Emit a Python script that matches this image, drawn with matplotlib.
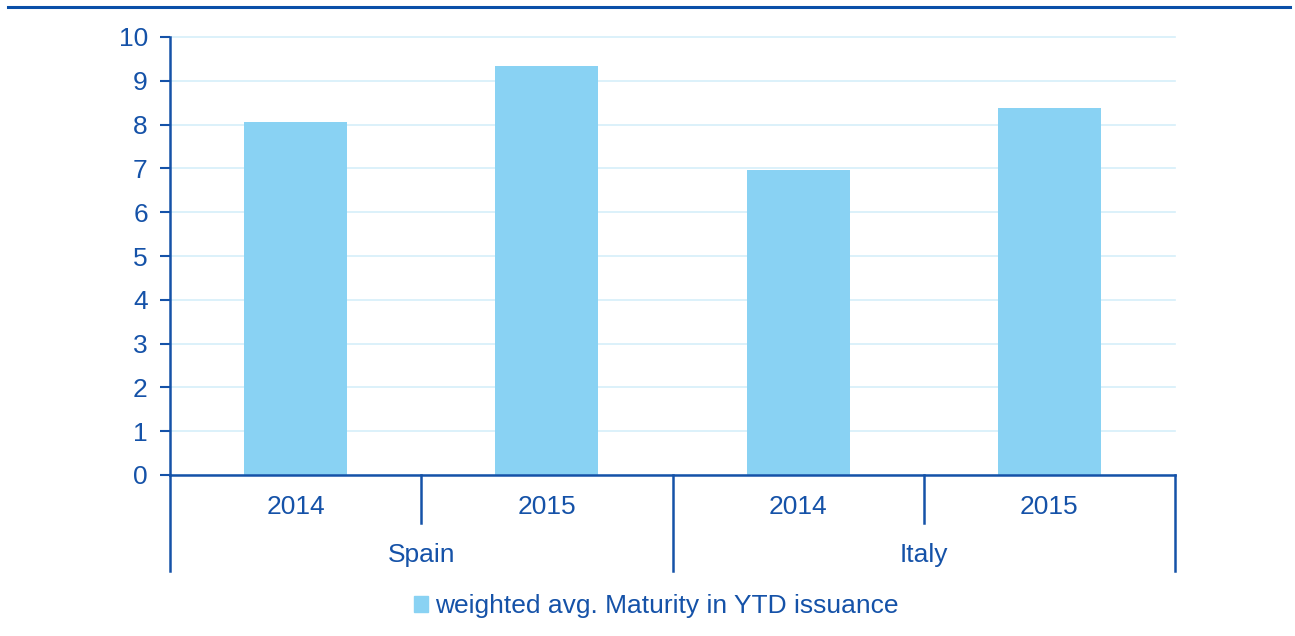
import matplotlib
matplotlib.use('Agg')
import matplotlib.pyplot as plt
from matplotlib.lines import Line2D
from matplotlib.patches import Patch

years = ['2014', '2015', '2014', '2015']
countries = ['Spain', 'Italy']
maturity = [8.05, 9.33, 6.97, 8.37]
yticks = list(range(0, 11))

DARK = '#1552A8'
BAR = '#89D2F3'
GRID = '#D5EFFA'

plt.rcParams['font.family'] = ['Liberation Sans', 'DejaVu Sans']

fig = plt.figure(figsize=(12.95, 6.36), dpi=100)
ax = fig.add_axes([170 / 1295, 1 - 475 / 636, 1005 / 1295, 438 / 636])

x = list(range(len(maturity)))
ax.bar(x, maturity, width=0.41, color=BAR, zorder=2)

ax.set_xlim(-0.5, len(maturity) - 0.5)
ax.set_ylim(0, 10)
ax.set_yticks(yticks)
ax.yaxis.grid(True, color=GRID, linewidth=1.2, zorder=0)
for gl in ax.get_ygridlines():
    gl.set_clip_on(False)
ax.tick_params(axis='y', colors=DARK, labelsize=19, length=7, width=1.5, direction='out', pad=9)
ax.tick_params(axis='x', bottom=False, labelbottom=False)
for s in ['top', 'right']:
    ax.spines[s].set_visible(False)
ax.spines['left'].set_color(DARK)
ax.spines['left'].set_linewidth(1.8)
ax.spines['bottom'].set_color(DARK)
ax.spines['bottom'].set_linewidth(1.8)
ax.spines['bottom'].set_zorder(3)

# multi-level category axis
trans = ax.get_xaxis_transform()
for i, yr in enumerate(years):
    ax.text(i, -0.072, yr, transform=trans, ha='center', va='center', fontsize=19, color=DARK)
for k in range(len(years) + 1):
    xpos = k - 0.5
    low = -0.22 if k % 2 == 0 else -0.11
    ax.add_line(Line2D([xpos, xpos], [0, low], transform=trans, color=DARK, lw=1.8, clip_on=False))
for j, c in enumerate(countries):
    ax.text(2 * j + 0.5, -0.182, c, transform=trans, ha='center', va='center', fontsize=19, color=DARK)

# top rule
fig.add_artist(Line2D([8 / 1295, 1290 / 1295], [1 - 7 / 636, 1 - 7 / 636], transform=fig.transFigure,
                      color='#0A4FA8', lw=2.2))

leg = fig.legend(handles=[Patch(color=BAR, label='weighted avg. Maturity in YTD issuance')],
                 loc='center', bbox_to_anchor=(656 / 1295, 1 - 606 / 636), frameon=False,
                 fontsize=19, handlelength=0.55, handleheight=0.55, handletextpad=0.25)
for t in leg.get_texts():
    t.set_color(DARK)

fig.savefig('out.png', dpi=100)
